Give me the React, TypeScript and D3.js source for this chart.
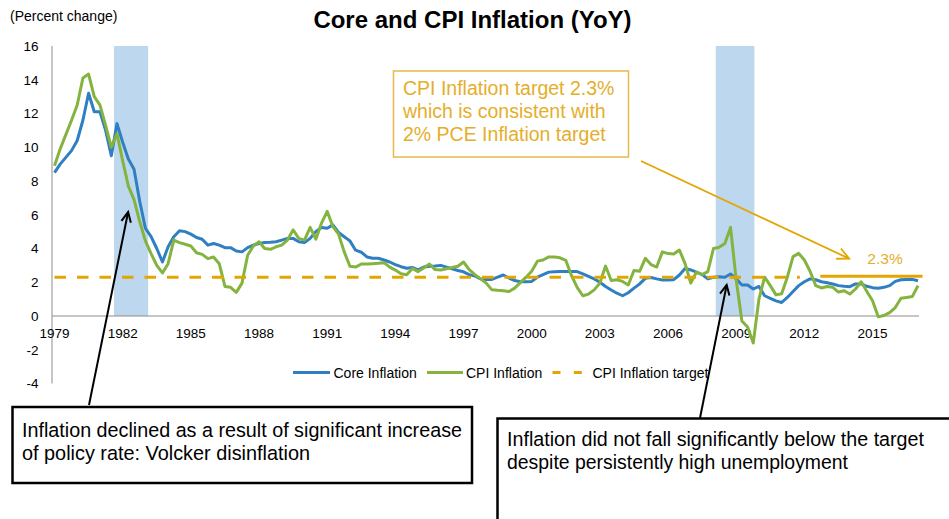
import React from 'react';
import * as d3 from 'd3';

const title = 'Core and CPI Inflation (YoY)';
const yUnit = '(Percent change)';
const yTicks = [16, 14, 12, 10, 8, 6, 4, 2, 0, -2, -4];
const xTickYears = [1979, 1982, 1985, 1988, 1991, 1994, 1997, 2000, 2003, 2006, 2009, 2012, 2015];

// quarterly, 1979Q1 .. 2017Q1
const firstYear = 1979;
const coreInflation = [
  8.5, 9.0, 9.4, 9.8, 10.4, 11.6, 13.2, 12.1, 12.1, 11.0, 9.5, 11.4,
  10.3, 9.3, 8.7, 6.8, 5.2, 4.7, 4.0, 3.2, 4.1, 4.7, 5.05, 5.0,
  4.85, 4.65, 4.55, 4.2, 4.3, 4.2, 4.05, 4.05, 3.85, 3.8, 4.05, 4.2,
  4.3, 4.35, 4.37, 4.4, 4.5, 4.6, 4.6, 4.4, 4.35, 4.6, 5.0, 5.25,
  5.2, 5.4, 4.95, 4.7, 4.45, 3.9, 3.78, 3.5, 3.42, 3.42, 3.32, 3.2,
  3.05, 2.92, 2.83, 2.88, 2.73, 2.9, 2.95, 2.96, 3.0, 2.9, 2.8, 2.7,
  2.62, 2.45, 2.37, 2.2, 2.17, 2.17, 2.3, 2.43, 2.25, 2.1, 2.03, 2.03,
  2.05, 2.3, 2.45, 2.6, 2.62, 2.63, 2.63, 2.63, 2.63, 2.5, 2.35, 2.2,
  2.0, 1.75, 1.54, 1.35, 1.2, 1.38, 1.65, 1.9, 2.23, 2.28, 2.2, 2.13,
  2.13, 2.15, 2.43, 2.82, 2.73, 2.6, 2.45, 2.2, 2.3, 2.33, 2.3, 2.49,
  2.2, 1.84, 1.84, 1.6, 1.75, 1.2, 1.05, 0.9, 0.8, 1.1, 1.45, 1.8,
  2.03, 2.2, 2.15, 2.03, 1.97, 1.9, 1.8, 1.76, 1.74, 1.9, 1.9, 1.76,
  1.68, 1.64, 1.7, 1.8, 2.05, 2.15, 2.17, 2.17, 2.09,
];
const cpiInflation = [
  8.9, 9.9, 10.75, 11.6, 12.5, 14.1, 14.34, 13.0, 12.5, 11.3, 10.0, 10.8,
  9.2, 7.7, 6.9, 5.6, 4.45, 3.7, 3.0, 2.55, 3.1, 4.5, 4.35, 4.25,
  4.15, 3.75, 3.65, 3.4, 3.5, 3.1, 1.75, 1.7, 1.4, 1.95, 3.6, 4.15,
  4.4, 4.0, 3.95, 4.1, 4.2, 4.5, 5.1, 4.6, 4.5, 5.25, 4.55, 5.5,
  6.2, 5.3, 4.85, 3.8, 2.95, 2.9, 3.08, 3.08, 3.1, 3.12, 3.16, 2.9,
  2.72, 2.5, 2.45, 2.82, 2.63, 2.85, 3.08, 2.75, 2.73, 2.8, 2.87, 2.95,
  3.2, 2.75, 2.45, 2.2, 1.95, 1.55, 1.52, 1.5, 1.45, 1.65, 1.98, 2.3,
  2.65, 3.25, 3.32, 3.5, 3.5, 3.45, 3.3, 2.4, 1.7, 1.2, 1.3, 1.55,
  1.95, 2.96, 2.1, 2.15, 2.05, 1.84, 2.7, 2.65, 3.42, 3.05, 2.9, 3.8,
  3.7, 3.67, 3.91, 3.1, 1.95, 2.6, 2.45, 2.63, 4.0, 4.07, 4.3, 5.25,
  2.13, -0.3, -0.65, -1.6, 1.0, 2.3, 1.8, 1.25, 1.32, 2.3, 3.52, 3.71,
  3.32, 2.65, 1.8, 1.66, 1.75, 1.7, 1.42, 1.5, 1.3, 1.6, 2.03, 1.45,
  0.9, -0.05, 0.03, 0.2, 0.5, 1.05, 1.1, 1.15, 1.8,
];

const targetValue = 2.3;
const targetDashedSpan = [1979, 2011.8];
const targetSolidSpan = [2012.7, 2017.2];
const recessions = [
  [1981.62, 1983.12],
  [2008.1, 2009.8],
];

const legendLabels = ['Core Inflation', 'CPI Inflation', 'CPI Inflation target'];
const targetNote = ['CPI Inflation target 2.3%', 'which is consistent with', '2% PCE Inflation target'];
const volckerNote = ['Inflation declined as a result of significant increase', 'of policy rate: Volcker disinflation'];
const gfcNote = ['Inflation did not fall significantly below the target', 'despite persistently high unemployment'];

const BLUE = '#2F7FC2';
const GREEN = '#84B43F';
const GOLD = '#E3A600';
const GOLD_TEXT = '#E5AE2A';
const BAND = '#BDD7EE';
const AXIS = '#8C8C8C';

// open arrow head: two wings meeting at (x2,y2)
function arrowHead(x1: number, y1: number, x2: number, y2: number, len: number, half: number) {
  const a = Math.atan2(y2 - y1, x2 - x1);
  const w1 = [x2 - len * Math.cos(a - half), y2 - len * Math.sin(a - half)];
  const w2 = [x2 - len * Math.cos(a + half), y2 - len * Math.sin(a + half)];
  return `M${w1[0]},${w1[1]}L${x2},${y2}L${w2[0]},${w2[1]}`;
}

export default function App() {
  const x = d3.scaleLinear().domain([1979, 2017]).range([54.5, 918]);
  const y = d3.scaleLinear().domain([-4, 16]).range([383.5, 46]);

  const yearOf = (i: number) => firstYear + i / 4;
  const line = d3
    .line<number>()
    .x((_, i) => x(yearOf(i)))
    .y((d) => y(d));

  const axisX = 52;
  const volckerTip = [x(1982.24), y(6.16)];
  const gfcTip = [x(2008.58), y(1.84)];
  const goldTip = [x(2013.97), y(3.4)];

  const sans = "'Liberation Sans', Arial, sans-serif";
  const narrow = "'Liberation Sans Narrow', 'Arial Narrow', 'Liberation Sans', sans-serif";

  return (
    <svg
      width={949}
      height={519}
      style={{ position: 'absolute', left: 0, top: 0, background: '#fff' }}
      fontFamily={sans}
    >
      <rect x={0} y={0} width={949} height={519} fill="#fff" />

      <text x={472.5} y={28} textAnchor="middle" fontSize={24} fontWeight="bold" fill="#000">
        {title}
      </text>
      <text x={10} y={21} fontSize={14} fill="#000">
        {yUnit}
      </text>

      {recessions.map(([a, b], i) => (
        <rect key={i} x={x(a)} y={y(16)} width={x(b) - x(a)} height={y(0) - y(16)} fill={BAND} />
      ))}

      {/* axes */}
      <line x1={axisX} x2={axisX} y1={y(16)} y2={y(-4)} stroke={AXIS} strokeWidth={1} />
      <line x1={axisX} x2={919} y1={y(0)} y2={y(0)} stroke={AXIS} strokeWidth={1} />
      {yTicks.map((t) => (
        <text key={t} x={38.5} y={y(t) + 4.8} textAnchor="end" fontSize={13.5} fill="#000">
          {t}
        </text>
      ))}
      {xTickYears.map((t) => (
        <text key={t} x={x(t)} y={338} textAnchor="middle" fontSize={13.5} fill="#000">
          {t}
        </text>
      ))}

      {/* series */}
      <path d={line(coreInflation) || ''} fill="none" stroke={BLUE} strokeWidth={3} strokeLinejoin="round" />
      <path d={line(cpiInflation) || ''} fill="none" stroke={GREEN} strokeWidth={3} strokeLinejoin="round" />
      <line
        x1={x(targetDashedSpan[0])}
        x2={x(targetDashedSpan[1])}
        y1={y(targetValue)}
        y2={y(targetValue)}
        stroke={GOLD}
        strokeWidth={3}
        strokeDasharray="11.5,11"
      />
      <line
        x1={x(targetSolidSpan[0])}
        x2={x(targetSolidSpan[1])}
        y1={y(targetValue) - 1}
        y2={y(targetValue) - 1}
        stroke={GOLD}
        strokeWidth={3}
      />
      <text x={885} y={264} textAnchor="middle" fontSize={15.5} fill={GOLD_TEXT}>
        2.3%
      </text>

      {/* legend */}
      <line x1={293} x2={330} y1={372.5} y2={372.5} stroke={BLUE} strokeWidth={3} />
      <text x={333.5} y={377.5} fontSize={14} fill="#000">{legendLabels[0]}</text>
      <line x1={427} x2={463} y1={372.5} y2={372.5} stroke={GREEN} strokeWidth={3} />
      <text x={466} y={377.5} fontSize={14} fill="#000">{legendLabels[1]}</text>
      <line x1={552.5} x2={583} y1={372.5} y2={372.5} stroke={GOLD} strokeWidth={3} strokeDasharray="8,13.3" />
      <text x={592.5} y={377.5} fontSize={14} fill="#000">{legendLabels[2]}</text>

      {/* target note */}
      <rect x={393.5} y={71} width={235} height={86} fill="#fff" stroke="#E8B84A" strokeWidth={1.5} />
      {targetNote.map((s, i) => (
        <text key={i} x={403} y={94.5 + i * 23.3} fontSize={19.5} fill={GOLD_TEXT}>
          {s}
        </text>
      ))}
      <line x1={641} y1={161} x2={goldTip[0]} y2={goldTip[1]} stroke={GOLD} strokeWidth={1.8} />
      <path d={arrowHead(641, 161, goldTip[0], goldTip[1], 13, 0.45)} fill="none" stroke={GOLD} strokeWidth={1.8} />

      {/* Volcker note */}
      <line x1={89} y1={405} x2={volckerTip[0]} y2={volckerTip[1]} stroke="#000" strokeWidth={2} />
      <path d={arrowHead(89, 405, volckerTip[0], volckerTip[1], 11, 0.45)} fill="none" stroke="#000" strokeWidth={2} />
      <rect x={12.5} y={407} width={459.5} height={76} fill="#fff" stroke="#000" strokeWidth={2.5} />
      <text x={22} y={437} fontSize={20.5} fontFamily={narrow} textLength={440} lengthAdjust="spacingAndGlyphs">
        {volckerNote[0]}
      </text>
      <text x={22} y={459.5} fontSize={20.5} fontFamily={narrow} textLength={288} lengthAdjust="spacingAndGlyphs">
        {volckerNote[1]}
      </text>

      {/* GFC note */}
      <line x1={700} y1={418} x2={gfcTip[0]} y2={gfcTip[1]} stroke="#000" strokeWidth={2} />
      <path d={arrowHead(700, 418, gfcTip[0], gfcTip[1], 11, 0.45)} fill="none" stroke="#000" strokeWidth={2} />
      <rect x={497.5} y={418.5} width={460} height={110} fill="#fff" stroke="#000" strokeWidth={2.5} />
      <text x={507} y={446} fontSize={20.5} fontFamily={narrow} textLength={417} lengthAdjust="spacingAndGlyphs">
        {gfcNote[0]}
      </text>
      <text x={507} y={468.5} fontSize={20.5} fontFamily={narrow} textLength={341} lengthAdjust="spacingAndGlyphs">
        {gfcNote[1]}
      </text>
    </svg>
  );
}
